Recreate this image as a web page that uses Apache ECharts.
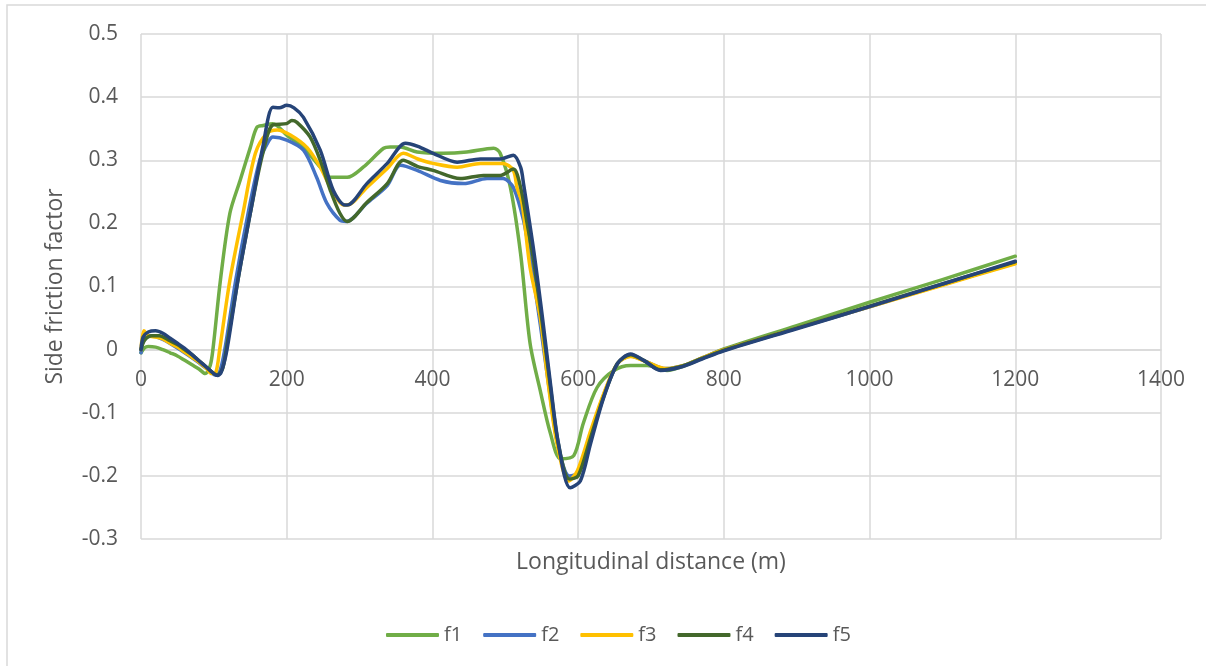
<!DOCTYPE html>
<html>
<head>
<meta charset="utf-8">
<script src="https://cdn.jsdelivr.net/npm/echarts@6/dist/echarts.min.js"></script>
<style>
html,body{margin:0;padding:0;background:#fff;}
#chart{width:1206px;height:666px;}
</style>
</head>
<body>
<div id="chart"></div>
<script>
// ---- Data ----
var seriesNames = ['f1', 'f2', 'f3', 'f4', 'f5'];
var seriesColors = ['#70AD47', '#4472C4', '#FFC000', '#43682B', '#264478'];
var xTicks = [0, 200, 400, 600, 800, 1000, 1200, 1400];
var yTicks = [-0.3, -0.2, -0.1, 0, 0.1, 0.2, 0.3, 0.4, 0.5];

var dist_f1 = [0, 5, 10, 20, 30, 40, 50, 60, 70, 80, 88, 95, 99, 109, 122, 136, 150, 159, 168, 181, 200, 223, 246, 260, 283, 305, 333, 342, 356, 379, 415, 447, 484, 493, 507, 521, 534, 548, 562, 576, 594, 607, 626, 649, 672, 695, 722, 745, 770, 800, 900, 1000, 1100, 1200];
var val_f1  = [-0.005, 0.003, 0.005, 0.004, 0.0, -0.005, -0.01, -0.017, -0.024, -0.031, -0.038, -0.025, 0.003, 0.11, 0.216, 0.268, 0.32, 0.352, 0.355, 0.358, 0.34, 0.32, 0.289, 0.273, 0.273, 0.289, 0.319, 0.321, 0.321, 0.313, 0.311, 0.313, 0.319, 0.311, 0.257, 0.152, 0.01, -0.065, -0.133, -0.173, -0.168, -0.117, -0.06, -0.033, -0.025, -0.025, -0.033, -0.026, -0.014, 0.001, 0.038, 0.075, 0.111, 0.148];

var dist_f2 = [0, 5, 15, 30, 45, 60, 75, 90, 102, 108, 115, 130, 147, 163, 175, 181, 200, 223, 241, 255, 273, 282, 310, 338, 356, 379, 411, 443, 475, 497, 511, 525, 535, 548, 560, 572, 588, 600, 617, 635, 654, 672, 695, 720, 745, 770, 800, 900, 1000, 1100, 1200];
var val_f2  = [-0.005, 0.02, 0.022, 0.016, 0.006, -0.005, -0.017, -0.03, -0.04, -0.035, 0.0, 0.11, 0.216, 0.3, 0.33, 0.337, 0.332, 0.316, 0.273, 0.232, 0.205, 0.203, 0.232, 0.26, 0.292, 0.284, 0.268, 0.263, 0.271, 0.271, 0.257, 0.205, 0.14, 0.04, -0.06, -0.15, -0.2, -0.195, -0.135, -0.072, -0.022, -0.01, -0.02, -0.03, -0.025, -0.013, 0.0, 0.034, 0.068, 0.103, 0.137];

var dist_f3 = [0, 4, 10, 20, 30, 40, 50, 60, 70, 80, 90, 97, 103, 108, 122, 140, 157, 173, 187, 205, 228, 246, 264, 278, 283, 310, 338, 360, 380, 401, 434, 466, 497, 511, 516, 523, 534, 548, 559, 571, 587, 599, 617, 635, 654, 672, 695, 720, 745, 770, 800, 900, 1000, 1100, 1200];
var val_f3  = [0.0, 0.03, 0.022, 0.02, 0.017, 0.01, 0.004, -0.004, -0.012, -0.02, -0.03, -0.038, -0.035, 0.0, 0.11, 0.216, 0.311, 0.343, 0.348, 0.34, 0.32, 0.289, 0.248, 0.229, 0.229, 0.257, 0.287, 0.311, 0.302, 0.295, 0.289, 0.295, 0.295, 0.284, 0.257, 0.232, 0.13, 0.051, -0.054, -0.149, -0.208, -0.192, -0.129, -0.07, -0.022, -0.011, -0.02, -0.03, -0.025, -0.013, 0.0, 0.034, 0.068, 0.102, 0.136];

var dist_f4 = [0, 5, 15, 25, 40, 50, 60, 70, 80, 90, 100, 105, 112, 117, 133, 150, 167, 181, 200, 207, 214, 232, 246, 260, 273, 283, 310, 338, 360, 380, 401, 438, 470, 493, 511, 521, 530, 539, 551, 562, 573, 588, 600, 617, 635, 654, 672, 690, 713, 740, 770, 800, 900, 1000, 1100, 1200];
var val_f4  = [0.0, 0.015, 0.022, 0.022, 0.014, 0.008, 0.0, -0.008, -0.018, -0.028, -0.038, -0.04, -0.03, 0.0, 0.11, 0.216, 0.31, 0.356, 0.358, 0.363, 0.36, 0.337, 0.3, 0.252, 0.216, 0.203, 0.233, 0.263, 0.3, 0.29, 0.284, 0.271, 0.276, 0.276, 0.286, 0.257, 0.2, 0.14, 0.04, -0.06, -0.15, -0.205, -0.2, -0.14, -0.075, -0.022, -0.008, -0.017, -0.032, -0.027, -0.014, -0.001, 0.034, 0.069, 0.104, 0.139];

var dist_f5 = [0, 3, 10, 20, 30, 40, 50, 60, 70, 80, 90, 100, 105, 110, 118, 133, 150, 167, 181, 190, 200, 210, 223, 246, 264, 280, 283, 310, 338, 363, 380, 401, 434, 466, 493, 511, 521, 525, 539, 551, 562, 573, 589, 603, 617, 635, 654, 672, 690, 713, 740, 770, 800, 900, 1000, 1100, 1200];
var val_f5  = [0.0, 0.02, 0.028, 0.03, 0.026, 0.018, 0.01, 0.002, -0.008, -0.018, -0.028, -0.038, -0.041, -0.036, 0.0, 0.11, 0.216, 0.32, 0.384, 0.383, 0.387, 0.383, 0.368, 0.316, 0.252, 0.229, 0.229, 0.263, 0.295, 0.327, 0.322, 0.311, 0.297, 0.302, 0.302, 0.308, 0.289, 0.263, 0.157, 0.051, -0.054, -0.149, -0.219, -0.208, -0.149, -0.076, -0.022, -0.007, -0.017, -0.033, -0.028, -0.015, -0.002, 0.033, 0.068, 0.104, 0.14];

var dists = [dist_f1, dist_f2, dist_f3, dist_f4, dist_f5];
var vals = [val_f1, val_f2, val_f3, val_f4, val_f5];

function zip(a, b) { return a.map(function (x, i) { return [x, b[i]]; }); }

var FONT = 'Open Sans';
var TXT = '#595959';
var GRID = '#d9d9d9';
var GRID_TOP = 34, GRID_BOTTOM = 127, CHART_H = 666;

var chart = echarts.init(document.getElementById('chart'), null, { renderer: 'canvas' });

// distance (px) from the plot bottom up to the y = 0 line, computed from the axis range
var plotH = CHART_H - GRID_TOP - GRID_BOTTOM;
var yMin = yTicks[0], yMax = yTicks[yTicks.length - 1];
var zeroOffset = plotH * (0 - yMin) / (yMax - yMin);

var series = seriesNames.map(function (n, i) {
  return {
    name: n,
    type: 'line',
    data: zip(dists[i], vals[i]),
    symbol: 'none',
    showSymbol: false,
    smooth: 0.3,
    lineStyle: { color: seriesColors[i], width: 3.5, cap: 'round', join: 'round' },
    itemStyle: { color: seriesColors[i] },
    z: 2 + i,
    animation: false
  };
});

chart.setOption({
  animation: false,
  backgroundColor: '#fff',
  textStyle: { fontFamily: FONT },
  graphic: [{
    type: 'rect',
    shape: { x: 7, y: 5, width: 1400, height: 900 },
    style: { fill: 'none', stroke: GRID, lineWidth: 1.5 },
    silent: true
  }],
  grid: { left: 141, right: 45, top: GRID_TOP, bottom: GRID_BOTTOM, containLabel: false, outerBoundsMode: 'none' },
  legend: {
    data: seriesNames,
    left: 381,
    top: 620,
    icon: 'roundRect',
    itemWidth: 53,
    itemHeight: 4,
    itemGap: 21,
    textStyle: { fontFamily: FONT, fontSize: 20, color: TXT }
  },
  xAxis: {
    type: 'value',
    position: 'bottom',
    offset: -zeroOffset,
    min: xTicks[0],
    max: xTicks[xTicks.length - 1],
    interval: xTicks[1] - xTicks[0],
    name: 'Longitudinal distance (m)',
    nameLocation: 'middle',
    nameGap: 201,
    nameTextStyle: { fontFamily: FONT, fontSize: 23, color: TXT },
    axisLine: { show: true, onZero: false, lineStyle: { color: GRID, width: 1.5 } },
    axisTick: { show: false },
    axisLabel: {
      margin: 20, fontFamily: FONT, fontSize: 21, color: TXT,
      formatter: function (v) { return String(Math.round(v)); }
    },
    splitLine: { show: true, lineStyle: { color: GRID, width: 1.5 } }
  },
  yAxis: {
    type: 'value',
    min: yMin,
    max: yMax,
    interval: 0.1,
    name: 'Side friction factor',
    nameLocation: 'middle',
    nameGap: 74,
    nameTextStyle: { fontFamily: FONT, fontSize: 23, color: TXT },
    axisLine: { show: false },
    axisTick: { show: false },
    axisLabel: {
      margin: 23, fontFamily: FONT, fontSize: 21, color: TXT,
      formatter: function (v) { var r = Math.round(v * 10) / 10; return String(r === 0 ? 0 : r); }
    },
    splitLine: { show: true, lineStyle: { color: GRID, width: 1.5 } }
  },
  series: series
});
</script>
</body>
</html>
